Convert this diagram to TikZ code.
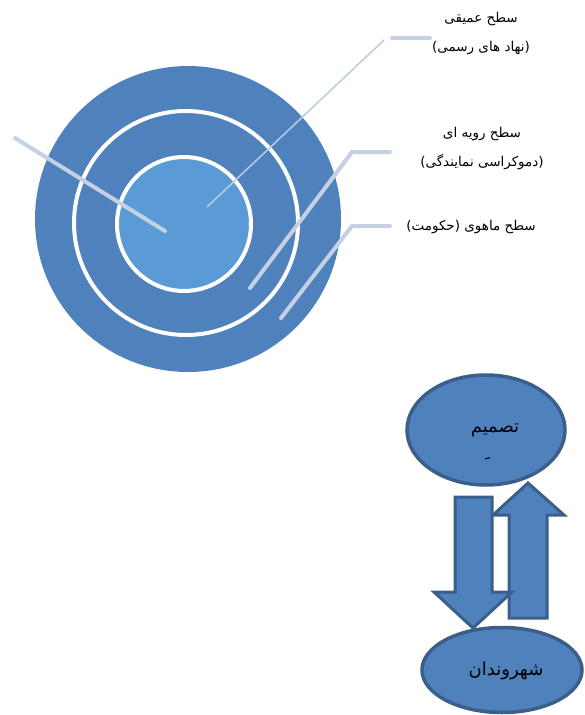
\documentclass[tikz,border=0pt]{standalone}
\usepackage{fontspec}
\usetikzlibrary{shapes.geometric}
\newfontfamily\arabicfont[Script=Arabic]{DejaVu Sans}
\newfontfamily\parenfont{DejaVu Sans}
\TeXXeTstate=1
\definecolor{ringblue}{HTML}{4F81BD}
\definecolor{coreblue}{HTML}{5B9BD5}
\definecolor{leadgray}{HTML}{C5D0E3}
\definecolor{leadblue}{HTML}{B8CCE4}
\definecolor{edgeblue}{HTML}{3A5F8B}
\newcommand{\rtl}[1]{\beginR #1\endR}
\newcommand{\inparen}[1]{{\parenfont(}\rtl{#1}{\parenfont)}}

\begin{document}
\begin{tikzpicture}[x=1pt, y=-1pt,
  leader/.style={leadgray, line width=4pt, line cap=round},
  levtext/.style={font=\arabicfont\fontsize{13.5}{29}\selectfont, align=center, inner sep=0pt},
  oval/.style={ellipse, draw=edgeblue, fill=ringblue, line width=3.5pt},
  ovaltext/.style={font=\arabicfont\fontsize{18}{20}\selectfont, inner sep=0pt},
  blockarrow/.style={draw=edgeblue, fill=ringblue, line width=3pt, line join=miter}]
  \useasboundingbox (0,0) rectangle (584,715);

  % دایره ها
  \fill[ringblue] (188,219) circle[radius=153pt];
  \draw[white, line width=4pt] (186,223) circle[radius=112pt];
  \draw[white, line width=4pt, fill=coreblue] (184,224) circle[radius=67pt];

  \coordinate (tail) at (15,138);
  \coordinate (core) at (165,231);
  \coordinate (mid) at (207,207);
  \coordinate (midend) at (384,40);
  \coordinate (deepbar) at (392,38);
  \coordinate (deepend) at (430,38);
  \coordinate (ring) at (250,288);
  \coordinate (ringbend) at (352,152);
  \coordinate (ringend) at (390,152);
  \coordinate (outer) at (281,318);
  \coordinate (outerbend) at (352,226);
  \coordinate (outerend) at (390,226);

  % برچسب ها
  \node[levtext] (deep) at (481,34) {\rtl{سطح عمیقی}\\\inparen{نهاد های رسمی}};
  \node[levtext] (proc) at (482,149) {\rtl{سطح رویه ای}\\\inparen{دموکراسی نمایندگی}};
  \node[levtext] (subst) at (471,227) {\inparen{حکومت} \rtl{سطح ماهوی}};

  \draw[leader] (tail) -- (core);
  \draw[leadblue, line width=1.5pt] (mid) -- (midend);
  \draw[leader] (deepbar) -- (deepend);
  \draw[leader] (ring) -- (ringbend) -- (ringend);
  \draw[leader] (outer) -- (outerbend) -- (outerend);

  % تصمیم و شهروندان
  \node[oval, minimum width=158pt, minimum height=110pt] (decide) at (486,430) {};
  \node[ovaltext] (decidetext) at (495,430) {\rtl{تصمیم}};
  \draw[line width=1.1pt] (485,459) -- (490,457.5);

  \draw[blockarrow] (509,618) -- (509,515) -- (493,515) -- (528,483)
    -- (564,515) -- (547,515) -- (547,618) -- cycle;
  \draw[blockarrow] (455,497) -- (492,497) -- (492,592) -- (512,592)
    -- (473,628) -- (434,592) -- (455,592) -- cycle;

  \node[oval, minimum width=160pt, minimum height=85pt] (citizens) at (502,670) {};
  \node[ovaltext] (citizenstext) at (506,671) {\rtl{شهروندان}};
\end{tikzpicture}
\end{document}
